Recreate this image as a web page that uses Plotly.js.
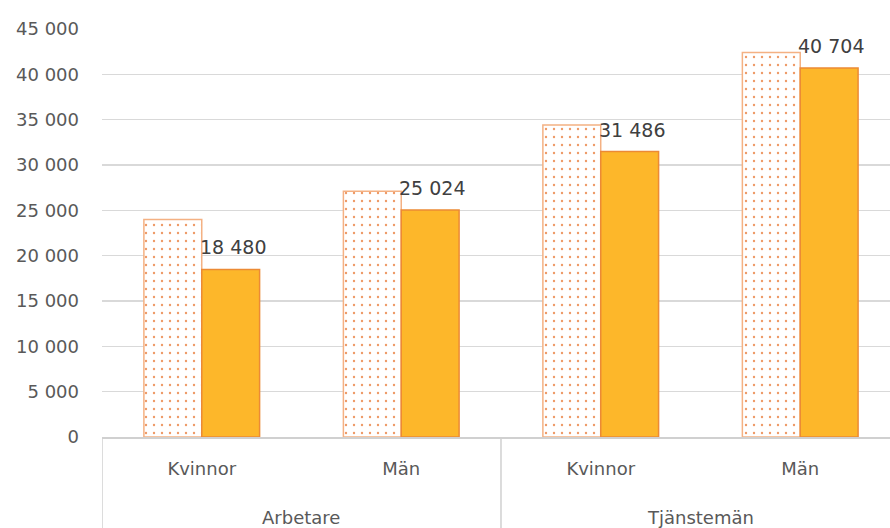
<!DOCTYPE html>
<html>
<head>
<meta charset="utf-8">
<script src="https://cdn.plot.ly/plotly-3.0.1.min.js"></script>
<style>html,body{margin:0;padding:0;overflow:hidden;background:#fff;}#chart{width:890px;height:528px;}</style>
</head>
<body>
<div id="chart"></div>
<script>
const groups = ["Arbetare", "Arbetare", "Tjänstemän", "Tjänstemän"];
const subgroups = ["Kvinnor", "Män", "Kvinnor", "Män"];
const seriesA = [24000, 27100, 34400, 42400];
const seriesB = [18480, 25024, 31486, 40704];
const yTicks = [0, 5000, 10000, 15000, 20000, 25000, 30000, 35000, 40000, 45000];

const font = "DejaVu Sans, sans-serif";
const idx = subgroups.map((_, i) => i);
const bargap = 0.42;
const barW = (1 - bargap) / 2;

// group spans
const groupNames = [];
const groupStart = [];
const groupEnd = [];
groups.forEach((g, i) => {
  if (i === 0 || groups[i - 1] !== g) { groupNames.push(g); groupStart.push(i); groupEnd.push(i); }
  else groupEnd[groupEnd.length - 1] = i;
});

const traceA = {
  type: "bar",
  x: idx,
  y: seriesA,
  marker: {
    color: "#ffffff",
    line: {color: "#F4B183", width: 1.5},
    pattern: {shape: ".", fgcolor: "#EE9A66", bgcolor: "#ffffff", size: 8, solidity: 0.07}
  },
  hoverinfo: "none"
};
const traceB = {
  type: "bar",
  x: idx,
  y: seriesB,
  marker: {color: "#FDB72A", line: {color: "#EC8A35", width: 1.5}},
  hoverinfo: "none"
};

const fmt = v => String(v).replace(/\B(?=(\d{3})+(?!\d))/g, " ");

const annotations = [];
seriesB.forEach((v, i) => {
  annotations.push({
    x: i + barW / 2, y: v, xref: "x", yref: "y",
    text: fmt(v), showarrow: false, yanchor: "bottom", yshift: 9, xshift: 2,
    font: {family: font, size: 19, color: "#404040"}
  });
});
groupNames.forEach((g, k) => {
  annotations.push({
    x: (groupStart[k] + groupEnd[k]) / 2, y: 0, xref: "x", yref: "paper",
    text: g, showarrow: false, yanchor: "middle", yshift: -80,
    font: {family: font, size: 18, color: "#595959"}
  });
});

const shapes = [];
groupStart.forEach(s => {
  shapes.push({type: "line", xref: "x", yref: "paper", x0: s - 0.5, x1: s - 0.5, y0: 0, y1: -0.23,
    line: {color: "#d0d0d0", width: 1.5}});
});

const layout = {
  width: 890,
  height: 528,
  margin: {l: 102, r: 0, t: 29, b: 91},
  paper_bgcolor: "#ffffff",
  plot_bgcolor: "#ffffff",
  separators: ", ",
  showlegend: false,
  barmode: "group",
  bargap: bargap,
  bargroupgap: 0,
  font: {family: font, color: "#595959", size: 17},
  annotations: annotations,
  shapes: shapes,
  xaxis: {
    type: "linear",
    range: [-0.5, 3.45],
    tickvals: idx,
    ticktext: subgroups,
    showline: true,
    linecolor: "#d0d0d0",
    linewidth: 1.5,
    showgrid: false,
    zeroline: false,
    ticks: "",
    ticklabelstandoff: 15,
    tickfont: {family: font, size: 18, color: "#595959"}
  },
  yaxis: {
    range: [0, 45000],
    tickvals: yTicks,
    tickformat: ",d",
    showgrid: true,
    gridcolor: "#d9d9d9",
    gridwidth: 1.5,
    zeroline: false,
    showline: false,
    ticks: "",
    ticklabelstandoff: 22,
    tickfont: {family: font, size: 18, color: "#595959"}
  }
};

Plotly.newPlot("chart", [traceA, traceB], layout, {displayModeBar: false, staticPlot: true});
</script>
</body>
</html>
